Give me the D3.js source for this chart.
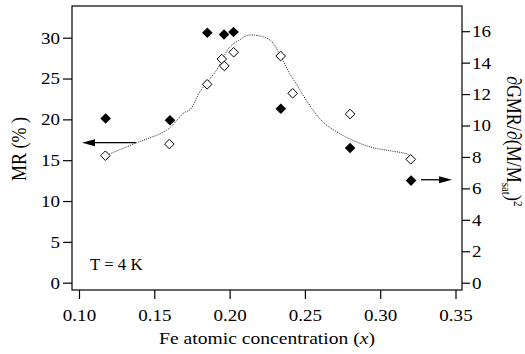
<!DOCTYPE html>
<html>
<head>
<meta charset="utf-8">
<script src="https://cdn.jsdelivr.net/npm/d3@7/dist/d3.min.js"></script>
<style>
  html, body { margin: 0; padding: 0; background: #fff; }
  svg { display: block; }
</style>
</head>
<body>
<svg id="chart" width="525" height="354"></svg>
<script>
// Fe concentration tick labels
const xTicks = [0.10, 0.15, 0.20, 0.25, 0.30, 0.35];
const mrTicks = [0, 5, 10, 15, 20, 25, 30];
const gmrTicks = [0, 2, 4, 6, 8, 10, 12, 14, 16];

// MR (%) at 4 K, left axis (filled diamonds)
const mrX = [0.1177, 0.1604, 0.1852, 0.1963, 0.2026, 0.2340, 0.2800, 0.3205];
const mrY = [20.1, 19.9, 30.6, 30.4, 30.7, 21.3, 16.5, 12.5];

// dGMR/d(M/Msat)^2, right axis (open diamonds)
const gmrX = [0.1175, 0.1600, 0.1851, 0.1948, 0.1965, 0.2027, 0.2339, 0.2419, 0.2800, 0.3203];
const gmrY = [8.08, 8.82, 12.62, 14.23, 13.79, 14.66, 14.42, 12.05, 10.73, 7.85];

// guide-to-the-eye curve through the right-axis data
const fitX = [0.1175, 0.1373, 0.1583, 0.1693, 0.1740, 0.1803, 0.1914, 0.2003, 0.2066, 0.2111, 0.2158,
              0.2268, 0.2339, 0.2397, 0.2441, 0.2508, 0.2618, 0.2729, 0.2839, 0.2950, 0.3061, 0.3183, 0.3203];
const fitY = [8.08, 8.87, 9.71, 10.78, 11.03, 12.15, 13.53, 15.01, 15.44, 15.71, 15.76,
              15.44, 14.42, 13.32, 12.68, 11.62, 10.24, 9.50, 8.97, 8.59, 8.40, 8.17, 8.0];

const SERIF = "'Liberation Serif', 'Times New Roman', Tinos, serif";
const FONT = 17;      // glyph height of the labels
const WIDE = 1.12;    // the serif face here is set slightly wide

const svg = d3.select("#chart");
const frame = { left: 72, right: 462, top: 6, bottom: 290 };

const x = d3.scaleLinear().domain([0.10, 0.35]).range([79, 455.5]);
const yL = d3.scaleLinear().domain([0, 30]).range([282.7, 37.7]);
const yR = d3.scaleLinear().domain([0, 16]).range([282.7, 31.2]);

// plot frame
svg.append("rect")
  .attr("x", frame.left).attr("y", frame.top)
  .attr("width", frame.right - frame.left).attr("height", frame.bottom - frame.top)
  .attr("fill", "none").attr("stroke", "#000").attr("stroke-width", 1.2);

// left axis
const axL = svg.append("g").attr("transform", `translate(${frame.left},0)`)
  .call(d3.axisLeft(yL).tickValues(mrTicks).tickSize(9).tickPadding(3).tickFormat(d3.format("d")));
// right axis
const axR = svg.append("g").attr("transform", `translate(${frame.right},0)`)
  .call(d3.axisRight(yR).tickValues(gmrTicks).tickSize(8).tickPadding(2).tickFormat(d3.format("d")));
// bottom axis
const axB = svg.append("g").attr("transform", `translate(0,${frame.bottom})`)
  .call(d3.axisBottom(x).tickValues(xTicks).tickSize(9).tickPadding(9.5).tickFormat(d3.format(".2f")));

[axL, axR, axB].forEach(g => {
  g.attr("font-family", null).attr("font-size", null);
  g.select(".domain").remove();
  g.selectAll(".tick line").attr("stroke", "#000").attr("stroke-width", 1.2);
  g.selectAll(".tick text")
    .style("font-family", SERIF).style("font-size", FONT + "px").attr("fill", "#000")
    .attr("x", function () { return (+d3.select(this).attr("x") || 0) / WIDE; })
    .attr("transform", `scale(${WIDE},1)`);
});

// axis titles
svg.append("text")
  .attr("transform", `translate(26,149) rotate(-90) scale(1,${WIDE})`)
  .attr("text-anchor", "middle")
  .style("font-family", SERIF).style("font-size", "18px")
  .text("MR (% )");

svg.append("text")
  .attr("transform", `translate(${(frame.left + frame.right) / 2},344) scale(${WIDE},1)`)
  .attr("text-anchor", "middle")
  .style("font-family", SERIF).style("font-size", "17.5px")
  .call(t => {
    t.append("tspan").text("Fe atomic concentration (");
    t.append("tspan").style("font-style", "italic").text("x");
    t.append("tspan").text(")");
  });

svg.append("text")
  .attr("transform", `translate(507,76) rotate(90) scale(1,1.15)`)
  .style("font-family", SERIF).style("font-size", "18px")
  .call(t => {
    t.append("tspan").text("\u2202GMR/\u2202(M/M");
    t.append("tspan").style("font-size", "11px").attr("dy", 4.5).text("sat");
    t.append("tspan").attr("dy", -4.5).text(")");
    t.append("tspan").style("font-size", "11px").attr("dy", -6).text("2");
  });

// temperature label
svg.append("text")
  .attr("transform", "translate(90,270) scale(1.05,1)")
  .style("font-family", SERIF).style("font-size", "16px")
  .text("T = 4 K");

// dotted curve
const line = d3.line().x(d => x(d[0])).y(d => yR(d[1])).curve(d3.curveCatmullRom.alpha(0.5));
svg.append("path")
  .datum(d3.zip(fitX, fitY))
  .attr("d", line)
  .attr("fill", "none").attr("stroke", "#222").attr("stroke-width", 1)
  .attr("stroke-dasharray", "1,1.2");

// diamond symbol
const diamond = {
  draw(ctx, size) {
    const r = Math.sqrt(size / 2);
    ctx.moveTo(0, -r); ctx.lineTo(r, 0); ctx.lineTo(0, r); ctx.lineTo(-r, 0); ctx.closePath();
  }
};

svg.append("g").selectAll("path")
  .data(d3.zip(mrX, mrY)).join("path")
  .attr("d", d3.symbol().type(diamond).size(2 * 5.3 * 5.3))
  .attr("transform", d => `translate(${x(d[0])},${yL(d[1])})`)
  .attr("fill", "#000");

svg.append("g").selectAll("path")
  .data(d3.zip(gmrX, gmrY)).join("path")
  .attr("d", d3.symbol().type(diamond).size(2 * 4.8 * 4.8))
  .attr("transform", d => `translate(${x(d[0])},${yR(d[1])})`)
  .attr("fill", "#fff").attr("stroke", "#000").attr("stroke-width", 1);

// arrows marking which axis each series uses
function arrow(x0, x1, yv) {
  const dir = Math.sign(x1 - x0);
  svg.append("line").attr("x1", x0).attr("x2", x1 - dir * 10).attr("y1", yv).attr("y2", yv)
    .attr("stroke", "#000").attr("stroke-width", 1.3);
  svg.append("path")
    .attr("d", `M${x1},${yv} L${x1 - dir * 13},${yv - 3.5} L${x1 - dir * 13},${yv + 3.5} Z`)
    .attr("fill", "#000");
}
arrow(x(0.1378), x(0.1020), yL(17.15));
arrow(x(0.3271), x(0.3477), yR(6.55));
</script>
</body>
</html>
